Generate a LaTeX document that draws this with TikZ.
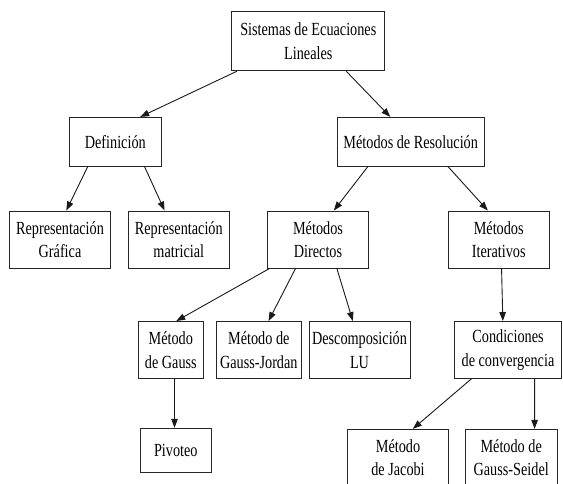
\documentclass[tikz,border=0pt]{standalone}
\usepackage{fontspec}
\setmainfont{Liberation Serif}[FakeStretch=0.77]
\usetikzlibrary{arrows.meta}

\begin{document}
\begin{tikzpicture}[x=1pt, y=-1pt,
	caja/.style={draw=black!85, line width=0.9pt, align=center, inner sep=0pt,
		minimum height=57pt, font=\fontsize{18.5}{23.5}\selectfont},
	flecha/.style={-{Triangle[length=9pt,width=6.5pt]}, line width=0.9pt, black!90},
	]

	\useasboundingbox (0,0) rectangle (563,484);
	\clip (0,0) rectangle (563,484);

	\node[caja, minimum width=153pt, minimum height=59pt] (sistemas) at (308.3,41.3) {Sistemas de Ecuaciones\\Lineales};

	\node[caja, minimum width=92.7pt, minimum height=48.7pt] (definicion) at (115.3,141.7) {Definición};
	\node[caja, minimum width=146.7pt, minimum height=48.7pt] (resolucion) at (410.7,141.7) {Métodos de Resolución};

	\node[caja, minimum width=101.3pt] (repgrafica) at (60,239.5) {Representación\\Gráfica};
	\node[caja, minimum width=101pt] (repmatricial) at (178.8,239.5) {Representación\\matricial};
	\node[caja, minimum width=100.6pt] (directos) at (318,239.5) {Métodos\\Directos};
	\node[caja, minimum width=101pt] (iterativos) at (498.7,239.5) {Métodos\\Iterativos};

	\node[caja, minimum width=65pt] (gauss) at (170.8,350) {Método\\de Gauss};
	\node[caja, minimum width=84.3pt] (gaussjordan) at (258.8,350) {Método de\\Gauss-Jordan};
	\node[caja, minimum width=101pt] (descomp) at (359.5,350) {Descomposición\\LU};
	\node[caja, minimum width=107.4pt] (condiciones) at (508,350) {Condiciones\\de convergencia};

	\node[caja, minimum width=70.3pt, minimum height=44.4pt] (pivoteo) at (175.8,450.5) {Pivoteo};
	\node[caja, minimum width=100.6pt] (jacobi) at (398,457.8) {Método\\de Jacobi};
	\node[caja, minimum width=92.3pt] (seidel) at (511.2,457.8) {Método de\\Gauss-Seidel};

	% primer nivel
	\draw[flecha] ([xshift=5.5pt]sistemas.south west) -- ([xshift=71.7pt]definicion.north west);
	\draw[flecha] ([xshift=114.9pt]sistemas.south west) -- ([xshift=53.4pt]resolucion.north west);

	% definicion y metodos
	\draw[flecha] ([xshift=19.3pt]definicion.south west) -- ([xshift=57.4pt]repgrafica.north west);
	\draw[flecha] ([xshift=76pt]definicion.south west) -- ([xshift=36.7pt]repmatricial.north west);
	\draw[flecha] ([xshift=31pt]resolucion.south west) -- ([xshift=66.6pt]directos.north west);
	\draw[flecha] ([xshift=111pt]resolucion.south west) -- ([xshift=40.1pt]iterativos.north west);

	% metodos directos
	\draw[flecha] ([xshift=2.3pt]directos.south west) -- ([xshift=38.4pt]gauss.north west);
	\draw[flecha] ([xshift=28.3pt]directos.south west) -- ([xshift=52.3pt]gaussjordan.north west);
	\draw[flecha] ([xshift=69.6pt]directos.south west) -- ([xshift=44.3pt]descomp.north west);
	\draw[flecha] ([xshift=36.7pt]gauss.south west) -- ([xshift=34.3pt]pivoteo.north west);

	% metodos iterativos
	\draw[flecha] ([xshift=53.8pt]iterativos.south west) -- ([xshift=49pt]condiciones.north west);
	\draw[flecha] ([xshift=17.4pt]condiciones.south west) -- ([xshift=65.6pt]jacobi.north west);
	\draw[flecha] ([xshift=80.7pt]condiciones.south west) -- ([xshift=70pt]seidel.north west);

\end{tikzpicture}
\end{document}
